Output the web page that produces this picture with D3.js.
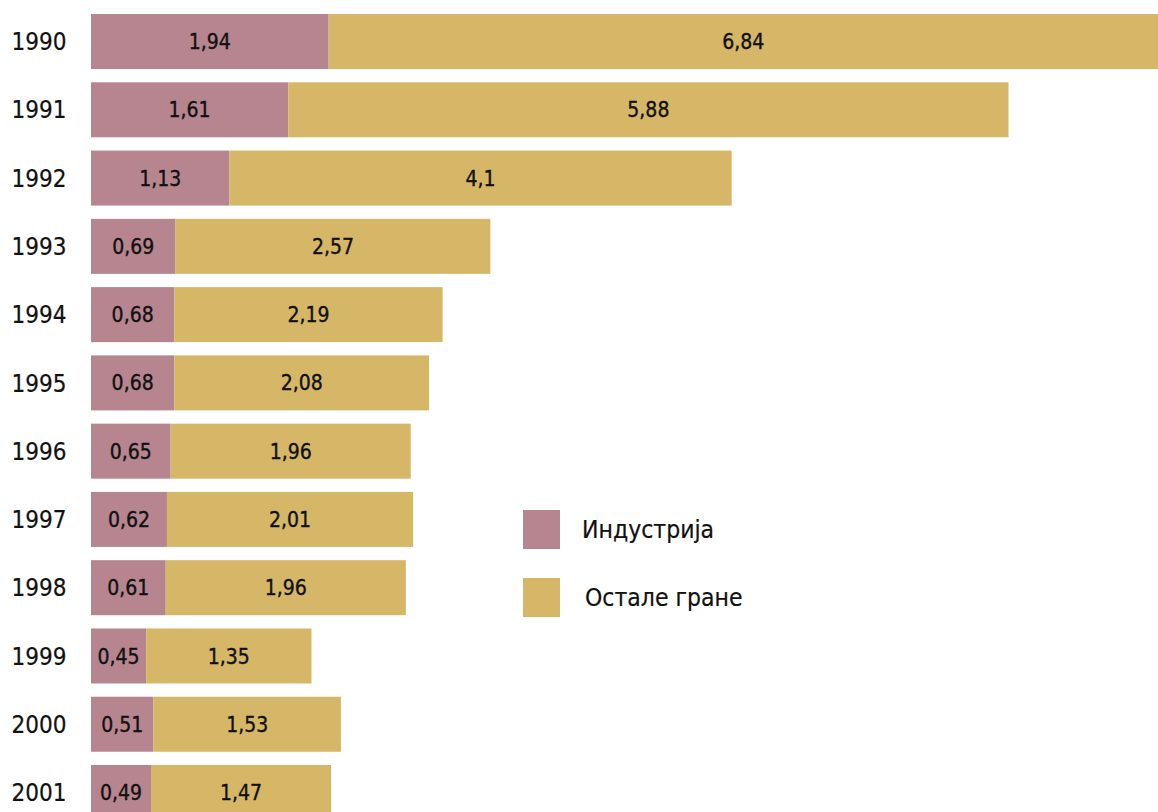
<!DOCTYPE html>
<html>
<head>
<meta charset="utf-8">
<script src="https://cdn.jsdelivr.net/npm/d3@7"></script>
<style>
  body { margin: 0; background: #fff; }
  svg { display: block; }
  text { font-family: "DejaVu Sans Condensed", "DejaVu Sans", sans-serif; fill: #111; }
  .val { stroke: #111; stroke-width: 0.35px; }
  .lbl { stroke: #111; stroke-width: 0.2px; }
</style>
</head>
<body>
<svg id="chart"></svg>
<script>
// data
const years = ["1990", "1991", "1992", "1993", "1994", "1995", "1996", "1997", "1998", "1999", "2000", "2001"];
const industry = [1.94, 1.61, 1.13, 0.69, 0.68, 0.68, 0.65, 0.62, 0.61, 0.45, 0.51, 0.49];
const other = [6.84, 5.88, 4.1, 2.57, 2.19, 2.08, 1.96, 2.01, 1.96, 1.35, 1.53, 1.47];
const seriesNames = ["Индустрија", "Остале гране"];
const colors = ["#b6858f", "#d6b768"];

var w = 1158;
var h = 812;
var svg = d3.select("#chart")
            .attr("width", w)
            .attr("height", h);

const rows = years.map((y, i) => ({ year: y, ind: industry[i], oth: other[i] }));

var x = d3.scaleLinear()
    .domain([0, 9])
    .range([91, 91 + 9 * 122.5]);

var y = d3.scaleBand()
    .domain(years)
    .range([14 - 6.6, 14 - 6.6 + 12 * 68.27])
    .paddingInner(13.27 / 68.27)
    .paddingOuter(13.27 / 68.27 / 2);

const fmt = (v) => String(v).replace(".", ",");

var row = svg.selectAll("g.row")
    .data(rows)
    .enter()
    .append("g")
    .attr("class", "row");

// industry segment
row.append("rect")
    .attr("x", x(0))
    .attr("y", (d) => y(d.year))
    .attr("width", (d) => x(d.ind) - x(0))
    .attr("height", y.bandwidth())
    .attr("fill", colors[0]);

// other segment
row.append("rect")
    .attr("x", (d) => x(d.ind))
    .attr("y", (d) => y(d.year))
    .attr("width", (d) => x(d.ind + d.oth) - x(d.ind))
    .attr("height", y.bandwidth())
    .attr("fill", colors[1]);

// value labels
row.append("text")
    .attr("class", "val")
    .attr("x", (d) => (x(0) + x(d.ind)) / 2)
    .attr("y", (d) => y(d.year) + y.bandwidth() / 2)
    .attr("dy", "0.36em")
    .attr("text-anchor", "middle")
    .style("font-size", "21px")
    .text((d) => fmt(d.ind));

row.append("text")
    .attr("class", "val")
    .attr("x", (d) => (x(d.ind) + Math.min(x(d.ind + d.oth), w)) / 2)
    .attr("y", (d) => y(d.year) + y.bandwidth() / 2)
    .attr("dy", "0.36em")
    .attr("text-anchor", "middle")
    .style("font-size", "21px")
    .text((d) => fmt(d.oth));

// year labels
row.append("text")
    .attr("class", "lbl")
    .attr("x", 39)
    .attr("y", (d) => y(d.year) + y.bandwidth() / 2)
    .attr("dy", "0.36em")
    .attr("text-anchor", "middle")
    .style("font-size", "24px")
    .text((d) => d.year);

// legend
var legend = svg.selectAll("g.legend")
    .data(seriesNames)
    .enter()
    .append("g")
    .attr("class", "legend")
    .attr("transform", (d, i) => "translate(523," + (510 + i * 68) + ")");

legend.append("rect")
    .attr("width", 37)
    .attr("height", 39)
    .attr("fill", (d, i) => colors[i]);

legend.append("text")
    .attr("class", "lbl")
    .attr("x", (d, i) => i === 0 ? 59 : 62)
    .attr("y", 19.5)
    .attr("dy", "0.36em")
    .style("font-size", "24.5px")
    .text((d) => d);
</script>
</body>
</html>
